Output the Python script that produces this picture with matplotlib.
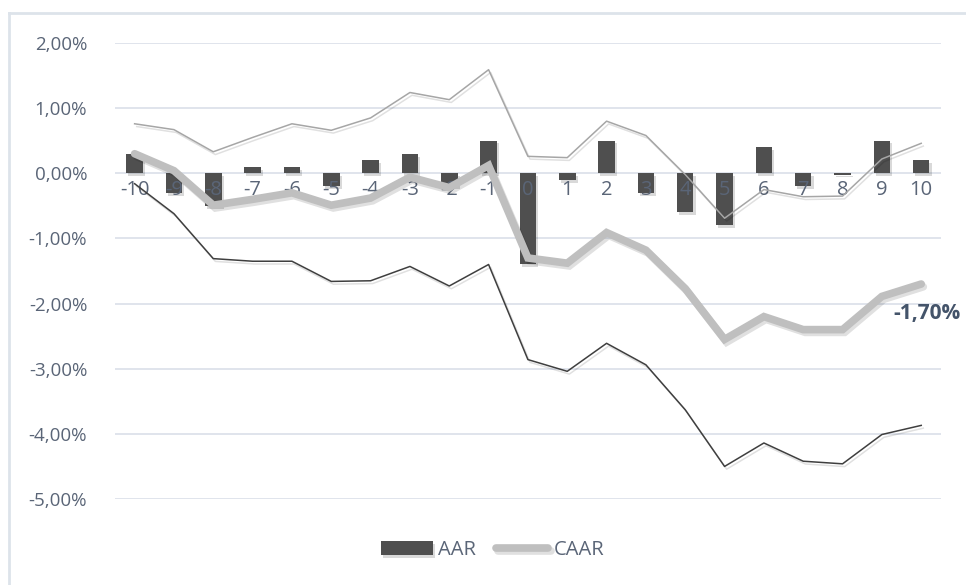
import numpy as np
from matplotlib import pyplot as plt
from matplotlib import patheffects as pe
from matplotlib.lines import Line2D
from matplotlib.ticker import FuncFormatter

# event window days
days = list(range(-10, 11))
dayLabels = [str(d) for d in days]

# average abnormal return (%)
aar = [0.3, -0.3, -0.5, 0.1, 0.1, -0.2, 0.2, 0.3, -0.2, 0.5,
       -1.4, -0.1, 0.5, -0.3, -0.6, -0.8, 0.4, -0.2, -0.02, 0.5, 0.2]

# cumulative average abnormal return (%)
caar = [0.3, 0.04, -0.49, -0.4, -0.3, -0.49, -0.38, -0.06, -0.22, 0.12,
        -1.3, -1.38, -0.91, -1.18, -1.77, -2.55, -2.2, -2.4, -2.4, -1.89, -1.7]

# confidence bands (%)
upper = [0.76, 0.67, 0.33, 0.55, 0.76, 0.66, 0.85, 1.24, 1.13, 1.59,
         0.26, 0.24, 0.8, 0.58, -0.02, -0.69, -0.25, -0.36, -0.35, 0.22, 0.46]
lower = [-0.16, -0.62, -1.31, -1.35, -1.35, -1.66, -1.65, -1.43, -1.73, -1.4,
         -2.86, -3.04, -2.61, -2.94, -3.63, -4.5, -4.14, -4.42, -4.46, -4.01, -3.87]

yTicks = [2, 1, 0, -1, -2, -3, -4, -5]

textColor = '#5a6577'
plt.rcParams['font.family'] = ['Open Sans', 'DejaVu Sans']

fig = plt.figure(figsize=(9.66, 5.85), dpi=100)
ax = fig.add_axes([0.119, 0.147, 0.855, 0.7795])

x = np.arange(len(days))

'''
grid lines behind everything
'''
for t in yTicks:
    ax.axhline(t, color='#dde2ea', lw=1.3, zorder=0)

shadow = [pe.SimplePatchShadow(offset=(1.5, -2), shadow_rgbFace='#000000', alpha=0.15), pe.Normal()]
lineShadow = [pe.SimpleLineShadow(offset=(1.5, -2), shadow_color='#000000', alpha=0.12), pe.Normal()]

bars = ax.bar(x, aar, width=0.42, color='#4f4f4f', zorder=1, path_effects=shadow, label='AAR')

ax.plot(x, upper, color='#a6a6a6', lw=1.1, zorder=3, path_effects=lineShadow)
ax.plot(x, lower, color='#3f3f3f', lw=1.1, zorder=3, path_effects=lineShadow)
caarLine, = ax.plot(x, caar, color='#bfbfbf', lw=5.5, zorder=4, solid_joinstyle='miter',
                    solid_capstyle='round', path_effects=lineShadow, label='CAAR')

ax.annotate('-1,70%', xy=(x[-1], caar[-1]), xytext=(-28, -29), textcoords='offset pixels',
            ha='left', va='center', fontsize=15, fontweight='bold', color='#44546a')

ax.set_xlim(-0.5, len(days) - 0.5)
ax.set_ylim(-5, 2)
ax.set_yticks(yTicks)
ax.yaxis.set_major_formatter(FuncFormatter(lambda v, p: ('%.2f%%' % v).replace('.', ',')))
ax.set_xticks(x)
ax.set_xticklabels(dayLabels)

ax.spines['bottom'].set_position(('data', 0))
for s in ax.spines.values():
    s.set_visible(False)
ax.tick_params(axis='both', length=0, labelcolor=textColor)
ax.tick_params(axis='x', pad=5, labelsize=14.5)
ax.tick_params(axis='y', pad=20, labelsize=13.5)

leg = ax.legend(handles=[bars, caarLine], loc='center', bbox_to_anchor=(0.457, -0.112),
                ncol=2, frameon=False, fontsize=14.5, handlelength=2.6, handletextpad=0.25,
                columnspacing=1.0)
for t in leg.get_texts():
    t.set_color(textColor)

'''
outer frame of the chart (top and left edges visible)
'''
fig.add_artist(Line2D([9 / 966, 1], [1 - 13 / 585, 1 - 13 / 585], transform=fig.transFigure,
                      color='#dde3ea', lw=2))
fig.add_artist(Line2D([9 / 966, 9 / 966], [0, 1 - 13 / 585], transform=fig.transFigure,
                      color='#dde3ea', lw=2))

plt.savefig('out.png', dpi=100)
